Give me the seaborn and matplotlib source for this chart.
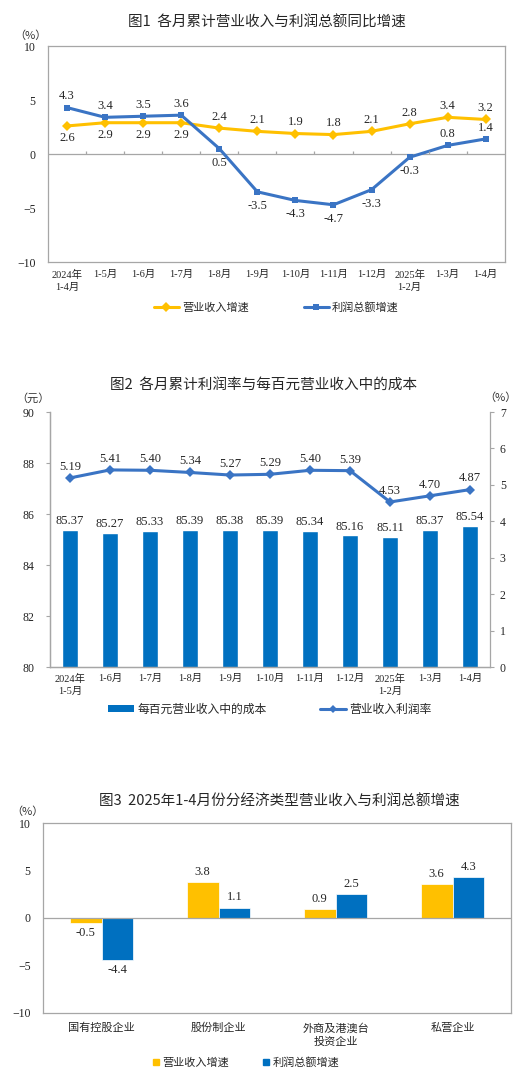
import numpy as np
import pandas as pd
import matplotlib
matplotlib.use('Agg')
import matplotlib.pyplot as plt
import seaborn as sns
from matplotlib.lines import Line2D
from matplotlib.patches import Patch

# ---- 图1 数据 ----
months1 = ['2024年\n1-4月', '1-5月', '1-6月', '1-7月', '1-8月', '1-9月',
           '1-10月', '1-11月', '1-12月', '2025年\n1-2月', '1-3月', '1-4月']
revenue1 = [2.6, 2.9, 2.9, 2.9, 2.4, 2.1, 1.9, 1.8, 2.1, 2.8, 3.4, 3.2]
profit1 = [4.3, 3.4, 3.5, 3.6, 0.5, -3.5, -4.3, -4.7, -3.3, -0.3, 0.8, 1.4]

# ---- 图2 数据 ----
months2 = ['2024年\n1-5月', '1-6月', '1-7月', '1-8月', '1-9月', '1-10月',
           '1-11月', '1-12月', '2025年\n1-2月', '1-3月', '1-4月']
cost2 = [85.37, 85.27, 85.33, 85.39, 85.38, 85.39, 85.34, 85.16, 85.11, 85.37, 85.54]
margin2 = [5.19, 5.41, 5.40, 5.34, 5.27, 5.29, 5.40, 5.39, 4.53, 4.70, 4.87]

# ---- 图3 数据 ----
types3 = ['国有控股企业', '股份制企业', '外商及港澳台\n投资企业', '私营企业']
revenue3 = [-0.5, 3.8, 0.9, 3.6]
profit3 = [-4.4, 1.1, 2.5, 4.3]

YELLOW = '#FFC000'
BLUE_LINE = '#3A74C4'
BLUE_BAR = '#0070C0'
GREY = '#A6A6A6'
NUM_FONT = ['Liberation Serif', 'Noto Sans CJK SC']
CJK_FONT = ['Noto Sans CJK SC', 'DejaVu Sans']

sns.set_style('white')
plt.rcParams['font.family'] = NUM_FONT
plt.rcParams['axes.edgecolor'] = GREY
plt.rcParams['axes.linewidth'] = 0.9

fig = plt.figure(figsize=(5.22, 10.76), dpi=100)


def style_y(ax):
    ax.tick_params(axis='y', which='major', direction='out', length=3, width=0.8,
                   color=GREY, labelsize=8.5, pad=6, labelcolor='#222222')


# ================= 图1 =================
ax1 = fig.add_axes([0.092, 0.7565, 0.875, 0.2007])
x1 = np.arange(len(months1))
sns.lineplot(x=x1, y=revenue1, ax=ax1, color=YELLOW, marker='D', markersize=5,
             markeredgewidth=0, linewidth=2.2, label='营业收入增速')
sns.lineplot(x=x1, y=profit1, ax=ax1, color=BLUE_LINE, marker='s', markersize=5,
             markeredgewidth=0, linewidth=2.2, label='利润总额增速')
ax1.set_xlim(-0.5, len(months1) - 0.5)
ax1.set_ylim(-10, 10)
ax1.set_yticks([-10, -5, 0, 5, 10])
ax1.axhline(0, color=GREY, lw=0.9, zorder=1)
ax1.vlines(x1[:-1] + 0.5, 0, 0.3, color=GREY, lw=0.9)
ax1.set_xticks(x1)
ax1.set_xticklabels(months1, fontsize=7.5, linespacing=1.35)
ax1.tick_params(axis='x', length=0, pad=6)
style_y(ax1)
ax1.set_xlabel('')
ax1.set_ylabel('')

rev_below = [True] * 4 + [False] * 8
prof_below = [False] * 4 + [True] * 6 + [False] * 2
for i, v in enumerate(revenue1):
    ax1.annotate(f'{v:.1f}', (x1[i], v), xytext=(0, -9 if rev_below[i] else 8),
                 textcoords='offset points', ha='center', va='center', fontsize=9)
for i, v in enumerate(profit1):
    ax1.annotate(f'{v:.1f}', (x1[i], v), xytext=(0, -10 if prof_below[i] else 8),
                 textcoords='offset points', ha='center', va='center', fontsize=9)

ax1.legend(loc='center', bbox_to_anchor=(0.5, -0.21), ncol=2, frameon=False,
           prop={'family': CJK_FONT, 'size': 8}, handlelength=2.2,
           columnspacing=5, handletextpad=0.3)
fig.text(0.512, 1 - 23 / 1076, '图1  各月累计营业收入与利润总额同比增速', ha='center',
         va='center', fontsize=10.5, fontweight='medium', family=CJK_FONT)
fig.text(30 / 522, 1 - 36 / 1076, '（%）', ha='center', va='center', fontsize=8,
         family=CJK_FONT, color='#333333')

# ================= 图2 =================
ax2 = fig.add_axes([0.0958, 0.3801, 0.843, 0.237])
sns.barplot(x=months2, y=cost2, ax=ax2, color=BLUE_BAR, saturation=1, width=0.4)
ax2.set_ylim(80, 90)
ax2.set_yticks(range(80, 91, 2))
ax2.bar_label(ax2.containers[0], labels=[f'{v:.2f}' for v in cost2], padding=2,
              fontsize=9)
ax2r = ax2.twinx()
x2 = np.arange(len(months2))
sns.lineplot(x=x2, y=margin2, ax=ax2r, color=BLUE_LINE, marker='D', markersize=5,
             markeredgewidth=0, linewidth=2.2)
ax2r.set_ylim(0, 7)
ax2r.set_yticks(range(0, 8))
ax2.set_xlim(-0.5, len(months2) - 0.5)
for i, v in enumerate(margin2):
    ax2r.annotate(f'{v:.2f}', (x2[i], v), xytext=(0, 8), textcoords='offset points',
                  ha='center', va='center', fontsize=9)
for a in (ax2, ax2r):
    a.spines['top'].set_visible(False)
    a.set_xlabel('')
    a.set_ylabel('')
ax2.spines['right'].set_visible(False)
ax2.set_xticks(x2)
ax2.set_xticklabels(months2, fontsize=7.5, linespacing=1.4)
ax2.set_xticks(x2[:-1] + 0.5, minor=True)
ax2.tick_params(axis='x', which='major', length=0, pad=5)
ax2.tick_params(axis='x', which='minor', length=3, direction='in', color=GREY, width=0.8)
style_y(ax2)
ax2.tick_params(axis='y', pad=8)
ax2r.tick_params(axis='y', direction='out', length=3, width=0.8, color=GREY,
                 labelsize=8.5, pad=4)

h2 = [Patch(facecolor=BLUE_BAR, edgecolor='none'),
      Line2D([], [], color=BLUE_LINE, marker='D', markersize=4, lw=2.2, markeredgewidth=0)]
ax2.legend(h2, ['每百元营业收入中的成本', '营业收入利润率'], loc='center',
           bbox_to_anchor=(0.5, -0.165), ncol=2, frameon=False,
           prop={'family': CJK_FONT, 'size': 8.5}, handlelength=2.2, handleheight=0.45,
           columnspacing=4.5, handletextpad=0.3)
fig.text(0.504, 1 - 385 / 1076, '图2  各月累计利润率与每百元营业收入中的成本', ha='center',
         va='center', fontsize=10.5, fontweight='medium', family=CJK_FONT)
fig.text(33 / 522, 1 - 398 / 1076, '（元）', ha='center', va='center', fontsize=8,
         family=CJK_FONT, color='#333333')
fig.text(500 / 522, 1 - 398 / 1076, '（%）', ha='center', va='center', fontsize=8,
         family=CJK_FONT, color='#333333')

# ================= 图3 =================
ax3 = fig.add_axes([0.0824, 0.0586, 0.8966, 0.1765])
df3 = pd.DataFrame({
    'type': types3 * 2,
    'value': revenue3 + profit3,
    'series': ['营业收入增速'] * len(types3) + ['利润总额增速'] * len(types3),
})
sns.barplot(data=df3, x='type', y='value', hue='series', palette=[YELLOW, BLUE_BAR],
            saturation=1, width=0.54, edgecolor='white', linewidth=0.5, ax=ax3,
            legend=False)
ax3.set_ylim(-10, 10)
ax3.set_yticks([-10, -5, 0, 5, 10])
ax3.set_xlim(-0.5, len(types3) - 0.5)
ax3.axhline(0, color=GREY, lw=0.9, zorder=1)
for c in ax3.containers:
    ax3.bar_label(c, fmt='%.1f', padding=3, fontsize=9)
ax3.set_xlabel('')
ax3.set_ylabel('')
ax3.tick_params(axis='x', length=0, pad=7)
for lab in ax3.get_xticklabels():
    lab.set_family(CJK_FONT)
    lab.set_fontsize(8)
    lab.set_linespacing(1.4)
style_y(ax3)
h3 = [Line2D([], [], color=YELLOW, marker='s', markersize=5, lw=0),
      Line2D([], [], color=BLUE_BAR, marker='s', markersize=5, lw=0)]
ax3.legend(h3, ['营业收入增速', '利润总额增速'], loc='center', bbox_to_anchor=(0.434, -0.26),
           ncol=2, frameon=False, prop={'family': CJK_FONT, 'size': 8},
           handlelength=0.6, handletextpad=0.3, columnspacing=3)
fig.text(0.535, 1 - 802 / 1076, '图3  2025年1-4月份分经济类型营业收入与利润总额增速',
         ha='center', va='center', fontsize=10.5, fontweight='medium', family=CJK_FONT)
fig.text(27 / 522, 1 - 812 / 1076, '（%）', ha='center', va='center', fontsize=8,
         family=CJK_FONT, color='#333333')

fig.savefig('out.png', dpi=100, facecolor='white')
